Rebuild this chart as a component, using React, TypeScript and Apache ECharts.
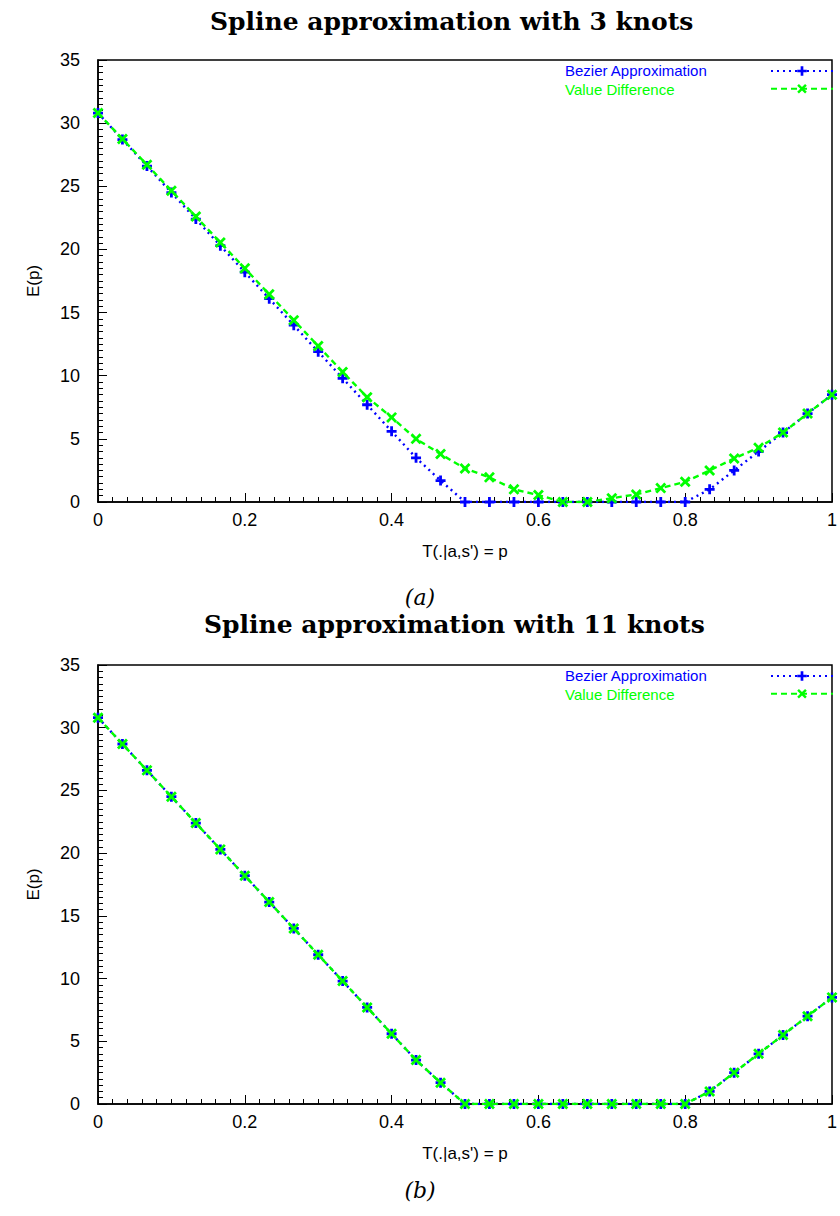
import React, { useEffect, useRef } from "react";
import * as echarts from "echarts";

// T(.|a,s') = p sample positions
const pValues = [
  0, 0.0333, 0.0667, 0.1, 0.1333, 0.1667, 0.2, 0.2333, 0.2667, 0.3, 0.3333,
  0.3667, 0.4, 0.4333, 0.4667, 0.5, 0.5333, 0.5667, 0.6, 0.6333, 0.6667, 0.7,
  0.7333, 0.7667, 0.8, 0.8333, 0.8667, 0.9, 0.9333, 0.9667, 1,
];

// (a) 3 knots
const bezier3 = [
  30.8, 28.7, 26.6, 24.5, 22.4, 20.3, 18.2, 16.1, 14.0, 11.9, 9.8, 7.7, 5.6,
  3.5, 1.7, 0, 0, 0, 0, 0, 0, 0, 0, 0, 0, 1.0, 2.5, 4.0, 5.5, 7.0, 8.5,
];
const valueDiff3 = [
  30.8, 28.75, 26.7, 24.65, 22.6, 20.55, 18.5, 16.45, 14.4, 12.35, 10.3, 8.3,
  6.7, 5.0, 3.8, 2.65, 1.95, 1.0, 0.55, 0, 0, 0.3, 0.6, 1.1, 1.6, 2.5, 3.45,
  4.3, 5.5, 7.0, 8.5,
];

// (b) 11 knots
const bezier11 = [
  30.8, 28.7, 26.6, 24.5, 22.4, 20.3, 18.2, 16.1, 14.0, 11.9, 9.8, 7.7, 5.6,
  3.5, 1.7, 0, 0, 0, 0, 0, 0, 0, 0, 0, 0, 1.0, 2.5, 4.0, 5.5, 7.0, 8.5,
];
const valueDiff11 = [
  30.8, 28.7, 26.6, 24.5, 22.4, 20.3, 18.2, 16.1, 14.0, 11.9, 9.8, 7.7, 5.6,
  3.5, 1.7, 0, 0, 0, 0, 0, 0, 0, 0, 0, 0, 1.0, 2.5, 4.0, 5.5, 7.0, 8.5,
];

const titles = [
  "Spline approximation with 3 knots",
  "Spline approximation with 11 knots",
];
const captions = ["(a)", "(b)"];
const seriesNames = ["Bezier Approximation", "Value Difference"];
const xTicks = { min: 0, max: 1, interval: 0.2 };
const yTicks = { min: 0, max: 35, interval: 5 };

const BLUE = "#0000ff";
const GREEN = "#00ff00";
const PLUS = "path://M3.6,0H6.4V3.6H10V6.4H6.4V10H3.6V6.4H0V3.6H3.6Z";
const CROSS =
  "path://M0,1.8L1.8,0L5,3.2L8.2,0L10,1.8L6.8,5L10,8.2L8.2,10L5,6.8L1.8,10L0,8.2L3.2,5Z";

const SANS = "'Liberation Sans', Arial, sans-serif";

export default function App() {
  const ref = useRef<HTMLDivElement>(null);
  useEffect(() => {
    if (!ref.current) return;
    const chart = echarts.init(ref.current, undefined, { renderer: "svg" });
    const grids = [
      { top: 60, height: 442 },
      { top: 665, height: 439 },
    ];
    const xAxis = grids.map((_, gi) => ({
      gridIndex: gi,
      type: "value",
      min: xTicks.min,
      max: xTicks.max,
      interval: xTicks.interval,
      name: "T(.|a,s') = p",
      nameLocation: "middle",
      nameGap: 41,
      nameTextStyle: { color: "#000", fontSize: 17, fontFamily: SANS },
      axisLine: { lineStyle: { color: "#000", width: 1.5 } },
      axisTick: { inside: true, length: 9, lineStyle: { color: "#000", width: 1 } },
      minorTick: { show: true, splitNumber: 10, length: 5, lineStyle: { color: "#000", width: 1 } },
      splitLine: { show: false },
      axisLabel: { color: "#000", fontSize: 18, margin: 9, fontFamily: SANS },
    }));
    const yAxis = grids.map((_, gi) => ({
      gridIndex: gi,
      type: "value",
      min: yTicks.min,
      max: yTicks.max,
      interval: yTicks.interval,
      name: "E(p)",
      nameLocation: "middle",
      nameGap: 56,
      nameTextStyle: { color: "#000", fontSize: 17, fontFamily: SANS },
      axisLine: { lineStyle: { color: "#000", width: 1.5 } },
      axisTick: { inside: true, length: 9, lineStyle: { color: "#000", width: 1 } },
      minorTick: { show: true, splitNumber: 10, length: 5, lineStyle: { color: "#000", width: 1 } },
      splitLine: { show: false },
      axisLabel: { color: "#000", fontSize: 18, margin: 18, fontFamily: SANS },
    }));
    const datasets = [
      [bezier3, valueDiff3],
      [bezier11, valueDiff11],
    ];
    const series: any[] = [];
    datasets.forEach((pair, gi) => {
      series.push({
        name: seriesNames[0],
        type: "line",
        xAxisIndex: gi,
        yAxisIndex: gi,
        data: pValues.map((p, i) => [p, pair[0][i]]),
        symbol: PLUS,
        symbolSize: 10,
        itemStyle: { color: BLUE },
        lineStyle: { color: BLUE, width: 2.4, type: [2, 4] },
        z: 2,
      });
      series.push({
        name: seriesNames[1],
        type: "line",
        xAxisIndex: gi,
        yAxisIndex: gi,
        data: pValues.map((p, i) => [p, pair[1][i]]),
        symbol: CROSS,
        symbolSize: 11,
        itemStyle: { color: GREEN },
        lineStyle: { color: GREEN, width: 2.4, type: [6, 4] },
        z: 3,
      });
    });
    const legendTops = [65, 670];
    const legendLabels: any[] = [];
    legendTops.forEach((top) => {
      seriesNames.forEach((n, k) => {
        legendLabels.push({
          type: "text",
          left: 565,
          top: top - 2 + k * 19,
          style: {
            text: n,
            fill: k === 0 ? BLUE : GREEN,
            fontSize: 15,
            fontFamily: SANS,
          },
        });
      });
    });
    chart.setOption({
      animation: false,
      backgroundColor: "#fff",
      title: [
        ...titles.map((t, i) => ({
          text: t,
          left: i === 0 ? 205 : 199,
          top: i === 0 ? 4 : 607,
          textStyle: { fontFamily: "'DejaVu Serif', serif", fontWeight: "bold", fontSize: 25, color: "#000" },
        })),
        ...captions.map((c, i) => ({
          text: c,
          left: "center",
          top: i === 0 ? 581 : 1174,
          textStyle: { fontFamily: "'DejaVu Serif', serif", fontStyle: "italic", fontWeight: "normal", fontSize: 22, color: "#000" },
        })),
      ],
      grid: grids.map((g) => ({
        left: 98,
        right: 7,
        top: g.top,
        height: g.height,
        show: true,
        borderColor: "#000",
        borderWidth: 1.5,
        backgroundColor: "transparent",
      })),
      legend: legendTops.map((top) => ({
        orient: "vertical",
        left: 770,
        top,
        padding: 0,
        itemWidth: 62,
        itemHeight: 12,
        itemGap: 7,
        selectedMode: false,
        formatter: () => "",
        textStyle: { fontSize: 1 },
        data: seriesNames,
      })),
      graphic: legendLabels,
      xAxis,
      yAxis,
      series,
    });
    return () => chart.dispose();
  }, []);
  return (
    <div
      ref={ref}
      style={{ position: "absolute", left: 0, top: 0, width: 840, height: 1216 }}
    />
  );
}
